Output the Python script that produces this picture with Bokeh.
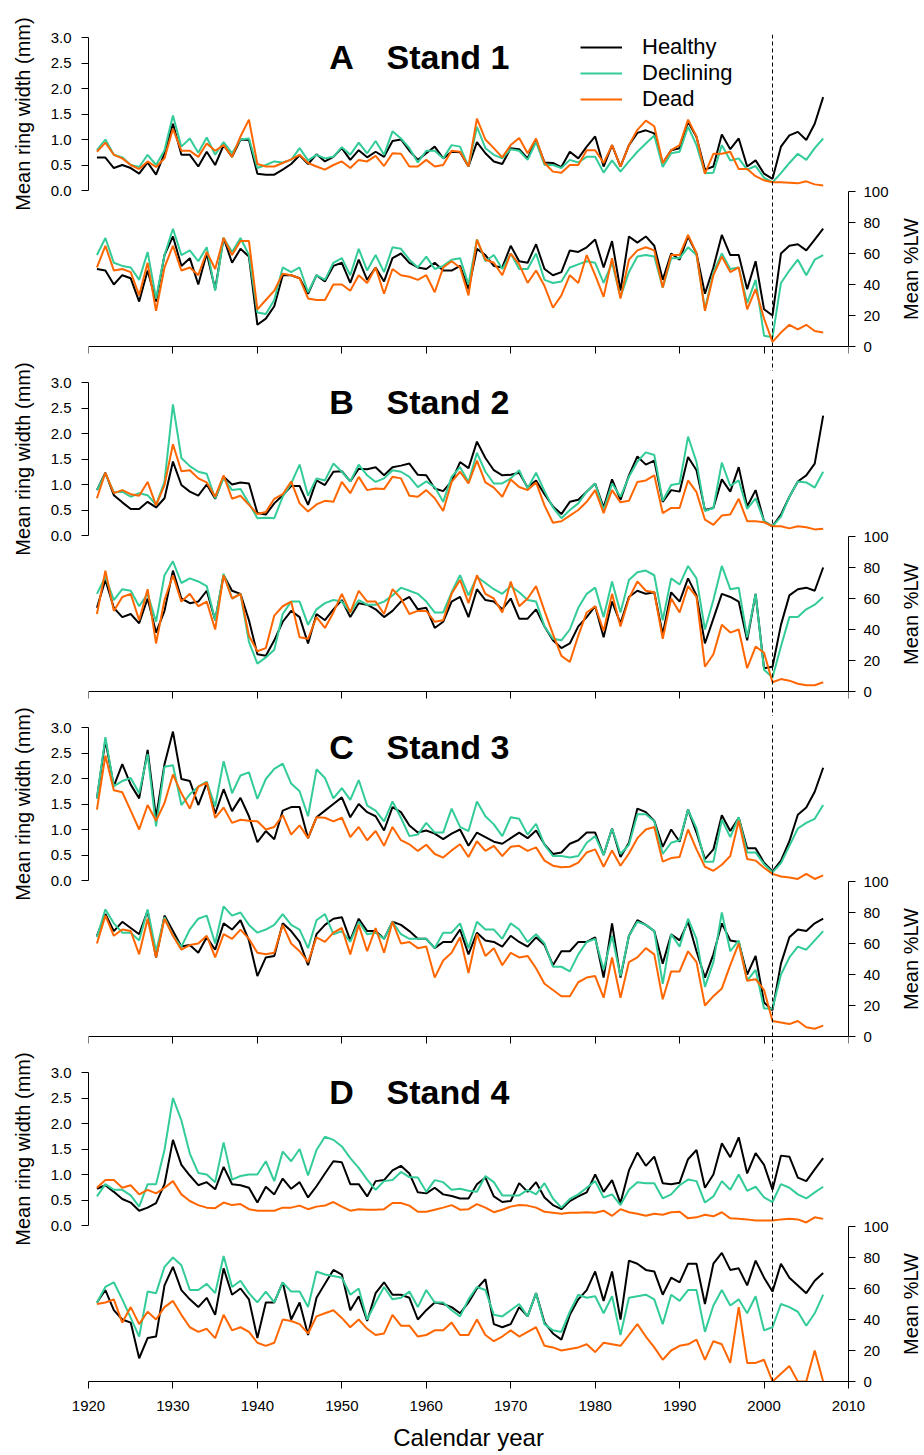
import math
from bokeh.plotting import figure
from bokeh.models import (Range1d, LinearAxis, FixedTicker, PrintfTickFormatter, Span,
                          Legend, LegendItem)
from bokeh.layouts import column, row
from bokeh.embed import file_html
from bokeh.resources import INLINE
from bokeh.core.properties import value

years = list(range(1921, 2008))
x_ticks = list(range(1920, 2011, 10))
rw_ticks = [0, 0.5, 1.0, 1.5, 2.0, 2.5, 3.0]
lw_ticks = [0, 20, 40, 60, 80, 100]
series_names = ["Healthy", "Declining", "Dead"]
stand_letters = ["A", "B", "C", "D"]
stand_names = ["Stand 1", "Stand 2", "Stand 3", "Stand 4"]
event_year = 2001

# ---------------- Stand 1 ----------------
s1_rw_healthy = [0.645, 0.645, 0.44, 0.50, 0.44, 0.33, 0.55, 0.31, 0.73, 1.31,
                 0.70, 0.70, 0.47, 0.76, 0.50, 0.89, 0.66, 1.00, 0.99, 0.33,
                 0.31, 0.31, 0.41, 0.52, 0.69, 0.52, 0.71, 0.57, 0.66, 0.83,
                 0.60, 0.79, 0.65, 0.76, 0.66, 0.97, 1.00, 0.78, 0.60, 0.73,
                 0.86, 0.63, 0.76, 0.75, 0.47, 0.95, 0.73, 0.57, 0.52, 0.83,
                 0.81, 0.63, 0.99, 0.55, 0.54, 0.46, 0.76, 0.63, 0.86, 1.06,
                 0.47, 0.89, 0.47, 0.89, 1.13, 1.18, 1.12, 0.54, 0.79, 0.83,
                 1.35, 1.05, 0.41, 0.47, 1.10, 0.81, 1.02, 0.47, 0.59, 0.33,
                 0.23, 0.86, 1.08, 1.15, 0.99, 1.31, 1.83]
s1_rw_declining = [0.79, 1.00, 0.70, 0.65, 0.50, 0.46, 0.70, 0.50, 0.79, 1.47,
                   0.86, 1.02, 0.74, 1.04, 0.70, 0.95, 0.73, 1.00, 1.02, 0.44,
                   0.50, 0.57, 0.55, 0.60, 0.83, 0.59, 0.70, 0.63, 0.66, 0.85,
                   0.70, 0.94, 0.73, 0.97, 0.70, 1.16, 1.02, 0.83, 0.55, 0.78,
                   0.78, 0.63, 0.89, 0.86, 0.47, 1.25, 0.83, 0.70, 0.63, 0.81,
                   0.78, 0.60, 0.95, 0.50, 0.50, 0.44, 0.60, 0.55, 0.66, 0.66,
                   0.35, 0.59, 0.37, 0.57, 0.76, 0.92, 1.08, 0.46, 0.73, 0.76,
                   1.25, 0.89, 0.34, 0.35, 0.89, 0.59, 0.63, 0.41, 0.48, 0.25,
                   0.16, 0.34, 0.54, 0.72, 0.60, 0.83, 1.02]
s1_rw_dead = [0.76, 0.94, 0.70, 0.63, 0.50, 0.42, 0.57, 0.46, 0.63, 1.21,
              0.78, 0.78, 0.66, 0.92, 0.78, 0.89, 0.66, 1.06, 1.39, 0.52,
              0.47, 0.47, 0.54, 0.61, 0.70, 0.54, 0.47, 0.41, 0.50, 0.57,
              0.44, 0.60, 0.57, 0.68, 0.48, 0.73, 0.72, 0.47, 0.47, 0.60,
              0.47, 0.50, 0.78, 0.76, 0.47, 1.41, 1.00, 0.83, 0.65, 0.89,
              1.03, 0.73, 1.02, 0.54, 0.37, 0.35, 0.50, 0.50, 0.79, 0.79,
              0.54, 0.89, 0.47, 0.89, 1.19, 1.37, 1.26, 0.54, 0.79, 0.89,
              1.39, 1.06, 0.33, 0.72, 0.72, 0.76, 0.42, 0.42, 0.28, 0.20,
              0.16, 0.16, 0.15, 0.14, 0.18, 0.12, 0.10]
s1_lw_healthy = [50, 49, 40, 46, 44, 29, 49, 29, 59, 71,
                 52, 57, 40, 60, 37, 70, 54, 63, 58, 14,
                 18, 26, 46, 46, 44, 34, 46, 42, 52, 54,
                 41, 56, 43, 51, 42, 57, 60, 54, 51, 50,
                 54, 49, 49, 52, 37, 63, 59, 52, 51, 65,
                 55, 54, 66, 50, 46, 48, 62, 61, 64, 69,
                 51, 68, 36, 71, 67, 71, 65, 43, 60, 56,
                 71, 60, 34, 51, 72, 59, 59, 37, 55, 24,
                 20, 60, 65, 66, 62, 69, 76]
s1_lw_declining = [59, 70, 54, 52, 51, 43, 61, 31, 59, 76,
                   59, 62, 55, 64, 36, 70, 61, 70, 59, 22,
                   21, 30, 51, 48, 51, 35, 46, 43, 54, 57,
                   46, 63, 49, 59, 48, 64, 63, 56, 51, 58,
                   50, 52, 56, 57, 40, 69, 55, 59, 50, 60,
                   50, 50, 60, 43, 41, 42, 51, 53, 55, 54,
                   41, 54, 32, 48, 58, 59, 58, 38, 57, 57,
                   64, 59, 24, 48, 60, 50, 51, 28, 43, 7,
                   6, 41, 49, 56, 46, 56, 59]
s1_lw_dead = [51, 65, 49, 50, 48, 33, 54, 23, 51, 65,
              49, 51, 46, 61, 50, 70, 59, 68, 68, 24,
              30, 36, 47, 46, 44, 31, 30, 30, 40, 40,
              36, 46, 41, 51, 34, 50, 46, 45, 43, 46,
              35, 51, 55, 51, 33, 69, 56, 54, 46, 60,
              53, 41, 49, 39, 25, 33, 46, 41, 59, 46,
              32, 57, 31, 56, 62, 64, 62, 38, 59, 59,
              72, 60, 23, 46, 58, 48, 51, 24, 37, 18,
              3, 9, 14, 11, 14, 10, 9]

# ---------------- Stand 2 ----------------
s2_rw_healthy = [0.89, 1.23, 0.79, 0.65, 0.52, 0.52, 0.66, 0.55, 0.73, 1.45,
                 0.99, 0.86, 0.78, 1.00, 0.72, 1.15, 1.00, 1.04, 1.02, 0.44,
                 0.41, 0.63, 0.79, 0.97, 0.97, 0.60, 1.08, 0.99, 1.25, 1.26,
                 1.06, 1.31, 1.30, 1.34, 1.18, 1.34, 1.37, 1.41, 1.19, 1.18,
                 0.92, 0.87, 1.06, 1.44, 1.32, 1.84, 1.52, 1.28, 1.18, 1.19,
                 1.23, 0.94, 1.08, 0.81, 0.57, 0.42, 0.66, 0.70, 0.86, 1.02,
                 0.55, 1.10, 0.70, 1.18, 1.55, 1.39, 1.47, 0.66, 0.89, 0.86,
                 1.54, 1.28, 0.50, 0.54, 1.10, 0.86, 1.34, 0.57, 0.89, 0.28,
                 0.18, 0.41, 0.76, 1.06, 1.18, 1.41, 2.35]
s2_rw_declining = [0.89, 1.21, 0.85, 0.86, 0.76, 0.83, 0.79, 0.60, 1.05, 2.57,
                   1.52, 1.36, 1.25, 1.21, 0.73, 1.12, 0.89, 0.91, 0.63, 0.34,
                   0.35, 0.34, 0.76, 1.02, 1.39, 0.78, 1.12, 1.08, 1.41, 1.25,
                   1.06, 1.39, 1.18, 1.05, 1.12, 1.28, 1.25, 1.15, 0.95, 1.06,
                   0.95, 0.66, 1.15, 1.34, 1.05, 1.62, 1.25, 1.02, 1.02, 1.12,
                   1.28, 0.92, 1.23, 0.87, 0.55, 0.34, 0.50, 0.63, 0.86, 1.02,
                   0.50, 1.02, 0.76, 1.15, 1.45, 1.63, 1.58, 0.68, 0.99, 1.02,
                   1.94, 1.44, 0.48, 0.54, 1.43, 0.97, 1.08, 0.52, 0.73, 0.28,
                   0.18, 0.37, 0.76, 1.06, 1.04, 0.94, 1.25]
s2_rw_dead = [0.73, 1.23, 0.83, 0.89, 0.81, 0.78, 1.05, 0.59, 0.99, 1.79,
              1.26, 1.28, 1.12, 1.04, 0.76, 1.18, 0.72, 0.78, 0.60, 0.42,
              0.46, 0.72, 0.81, 1.06, 0.63, 0.47, 0.61, 0.68, 0.66, 1.05,
              0.83, 1.15, 0.89, 0.92, 0.91, 1.15, 1.12, 0.78, 0.76, 0.89,
              0.73, 0.48, 1.05, 1.25, 1.02, 1.47, 1.04, 0.94, 0.76, 1.10,
              0.95, 0.89, 1.04, 0.59, 0.25, 0.28, 0.39, 0.50, 0.66, 0.89,
              0.44, 0.89, 0.65, 0.68, 1.05, 1.08, 1.18, 0.44, 0.54, 0.54,
              1.08, 0.85, 0.31, 0.21, 0.39, 0.41, 0.72, 0.28, 0.28, 0.26,
              0.18, 0.18, 0.14, 0.18, 0.16, 0.12, 0.13]
s2_lw_healthy = [54, 72, 54, 48, 50, 44, 60, 38, 52, 78,
                 60, 57, 58, 65, 46, 75, 65, 63, 46, 24,
                 23, 33, 45, 52, 48, 31, 50, 46, 53, 59,
                 48, 57, 56, 53, 48, 52, 58, 61, 53, 54,
                 41, 45, 58, 61, 48, 66, 59, 58, 53, 60,
                 47, 47, 53, 42, 33, 28, 31, 42, 48, 55,
                 35, 58, 44, 61, 65, 63, 64, 37, 64, 58,
                 73, 62, 31, 47, 63, 61, 58, 33, 63, 15,
                 16, 43, 62, 66, 67, 65, 80]
s2_lw_declining = [63, 74, 59, 66, 65, 55, 63, 45, 75, 84,
                   70, 73, 71, 68, 46, 76, 60, 63, 32, 18,
                   22, 27, 50, 58, 58, 43, 53, 57, 59, 58,
                   51, 59, 56, 56, 58, 62, 67, 65, 63, 58,
                   51, 51, 64, 75, 62, 74, 70, 66, 63, 68,
                   64, 59, 58, 42, 34, 33, 40, 54, 63, 67,
                   48, 71, 51, 72, 77, 78, 75, 46, 73, 69,
                   81, 73, 40, 59, 81, 66, 67, 35, 63, 14,
                   9, 29, 48, 48, 53, 56, 61]
s2_lw_dead = [50, 78, 52, 61, 63, 46, 66, 31, 59, 75,
              58, 63, 55, 58, 40, 75, 60, 63, 36, 26,
              28, 49, 55, 58, 35, 34, 48, 41, 51, 63,
              51, 65, 58, 58, 50, 66, 60, 50, 52, 52,
              45, 46, 63, 72, 57, 75, 63, 60, 51, 71,
              55, 60, 68, 52, 37, 23, 19, 36, 51, 55,
              39, 63, 42, 60, 71, 65, 64, 34, 60, 51,
              68, 61, 16, 24, 43, 38, 40, 15, 29, 25,
              6, 8, 7, 5, 4, 4, 6]

# ---------------- Stand 3 ----------------
s3_rw_healthy = [1.61, 2.75, 1.85, 2.28, 1.88, 1.61, 2.56, 1.23, 2.28, 2.92,
                 1.99, 1.95, 1.48, 1.91, 1.31, 1.79, 1.36, 1.62, 1.26, 0.75,
                 0.97, 0.81, 1.37, 1.44, 1.44, 0.83, 1.24, 1.37, 1.50, 1.63,
                 1.24, 1.50, 1.34, 1.26, 0.98, 1.44, 1.34, 1.08, 0.94, 0.98,
                 0.92, 0.81, 0.92, 1.00, 0.68, 0.94, 0.85, 0.76, 0.72, 0.83,
                 0.94, 0.83, 0.98, 0.71, 0.52, 0.55, 0.72, 0.79, 0.94, 0.94,
                 0.50, 1.02, 0.46, 0.74, 1.41, 1.34, 1.17, 0.66, 1.00, 0.76,
                 1.39, 0.94, 0.42, 0.61, 1.28, 0.97, 1.23, 0.63, 0.63, 0.35,
                 0.18, 0.39, 0.77, 1.29, 1.43, 1.74, 2.21]
s3_rw_declining = [1.61, 2.81, 1.85, 1.95, 2.01, 1.71, 2.48, 1.06, 2.23, 2.26,
                   1.48, 1.69, 1.84, 1.94, 1.45, 2.34, 1.71, 2.06, 2.12, 1.60,
                   1.99, 2.19, 2.29, 1.90, 1.75, 1.26, 2.18, 2.01, 1.61, 1.81,
                   1.58, 1.97, 1.47, 1.37, 1.16, 1.55, 1.23, 0.87, 0.90, 1.13,
                   0.94, 0.94, 1.41, 1.05, 0.97, 1.55, 1.26, 1.10, 0.87, 1.24,
                   1.21, 0.90, 1.11, 0.70, 0.48, 0.48, 0.45, 0.48, 0.74, 0.87,
                   0.50, 1.02, 0.52, 0.70, 1.30, 1.30, 1.16, 0.52, 0.74, 0.79,
                   1.39, 1.02, 0.37, 0.37, 1.19, 0.85, 1.24, 0.55, 0.55, 0.32,
                   0.16, 0.34, 0.68, 1.02, 1.13, 1.21, 1.48]
s3_rw_dead = [1.39, 2.45, 1.77, 1.73, 1.37, 1.00, 1.48, 1.17, 1.52, 2.08,
              1.71, 1.41, 1.84, 1.92, 1.23, 1.43, 1.13, 1.19, 1.17, 1.16,
              1.00, 1.05, 1.28, 0.90, 1.08, 0.83, 1.24, 1.23, 1.16, 1.23,
              0.85, 1.05, 0.79, 0.97, 0.68, 1.05, 0.79, 0.71, 0.58, 0.70,
              0.52, 0.45, 0.59, 0.71, 0.46, 0.77, 0.58, 0.68, 0.48, 0.66,
              0.68, 0.58, 0.65, 0.39, 0.29, 0.26, 0.27, 0.35, 0.55, 0.61,
              0.27, 0.59, 0.29, 0.53, 0.83, 1.00, 1.05, 0.37, 0.44, 0.46,
              1.00, 0.61, 0.27, 0.19, 0.31, 0.48, 1.17, 0.42, 0.39, 0.25,
              0.13, 0.08, 0.06, 0.03, 0.13, 0.03, 0.10]
s3_lw_healthy = [65, 79, 68, 74, 70, 66, 81, 51, 78, 68,
                 58, 59, 54, 64, 56, 73, 69, 75, 62, 39,
                 51, 52, 73, 68, 61, 46, 66, 72, 76, 77,
                 62, 76, 68, 68, 63, 74, 72, 68, 63, 63,
                 57, 61, 61, 69, 53, 67, 62, 61, 58, 65,
                 61, 58, 64, 59, 46, 55, 55, 61, 61, 64,
                 38, 73, 38, 65, 75, 72, 68, 47, 66, 62,
                 74, 55, 38, 53, 73, 62, 61, 40, 52, 22,
                 17, 47, 64, 69, 68, 73, 76]
s3_lw_declining = [64, 82, 73, 67, 67, 62, 82, 55, 77, 65,
                   58, 69, 76, 78, 60, 84, 78, 80, 72, 67,
                   69, 72, 79, 72, 69, 57, 75, 79, 66, 68,
                   61, 74, 66, 67, 63, 74, 66, 63, 63, 63,
                   57, 67, 67, 73, 57, 74, 69, 69, 63, 73,
                   69, 61, 66, 60, 45, 45, 42, 53, 61, 63,
                   43, 65, 39, 65, 74, 72, 68, 34, 66, 58,
                   76, 63, 32, 48, 80, 55, 62, 36, 43, 18,
                   18, 40, 51, 58, 56, 62, 68]
s3_lw_dead = [60, 78, 65, 69, 68, 53, 76, 51, 76, 65,
              56, 59, 60, 65, 51, 66, 63, 69, 63, 54,
              53, 54, 72, 60, 55, 48, 64, 61, 67, 70,
              53, 72, 55, 70, 54, 74, 60, 61, 57, 58,
              38, 49, 54, 64, 41, 66, 52, 57, 46, 54,
              51, 52, 44, 34, 30, 26, 26, 35, 38, 39,
              25, 51, 25, 48, 51, 57, 53, 24, 42, 42,
              55, 48, 20, 26, 31, 46, 60, 36, 37, 30,
              10, 9, 8, 10, 6, 5, 7]

# ---------------- Stand 4 ----------------
s4_rw_healthy = [0.72, 0.79, 0.66, 0.52, 0.45, 0.29, 0.35, 0.44, 0.81, 1.68,
                 1.19, 0.98, 0.79, 0.85, 0.71, 1.15, 0.81, 0.79, 0.74, 0.45,
                 0.76, 0.61, 0.92, 0.72, 0.85, 0.55, 0.77, 1.02, 1.26, 1.24,
                 0.81, 0.81, 0.57, 0.87, 0.89, 1.08, 1.17, 1.02, 0.65, 0.63,
                 0.74, 0.61, 0.58, 0.53, 0.53, 0.81, 0.94, 0.57, 0.46, 0.48,
                 0.83, 0.66, 0.85, 0.55, 0.40, 0.32, 0.48, 0.57, 0.65, 1.00,
                 0.66, 0.89, 0.44, 1.08, 1.43, 1.17, 1.35, 0.83, 0.81, 0.84,
                 1.30, 1.48, 0.74, 1.00, 1.61, 1.34, 1.73, 1.02, 1.42, 1.19,
                 0.70, 1.37, 1.35, 0.94, 0.87, 1.10, 1.32]
s4_rw_declining = [0.57, 0.81, 0.70, 0.70, 0.59, 0.37, 0.81, 0.81, 1.48, 2.50,
                   2.06, 1.41, 1.03, 1.00, 0.85, 1.63, 0.90, 0.97, 1.00, 1.00,
                   1.26, 0.87, 1.45, 1.26, 1.50, 0.98, 1.48, 1.74, 1.68, 1.55,
                   1.32, 1.13, 0.90, 0.70, 0.87, 0.89, 1.05, 0.95, 0.94, 0.66,
                   0.89, 0.85, 0.70, 0.72, 0.68, 0.66, 0.97, 0.85, 0.59, 0.59,
                   0.59, 0.70, 0.61, 0.83, 0.53, 0.35, 0.52, 0.61, 0.74, 0.87,
                   0.55, 0.61, 0.40, 0.70, 0.85, 0.83, 0.83, 0.53, 0.61, 0.79,
                   0.90, 0.87, 0.45, 0.57, 0.87, 0.70, 1.00, 0.68, 0.76, 0.55,
                   0.46, 0.81, 0.74, 0.61, 0.53, 0.65, 0.76]
s4_rw_dead = [0.74, 0.89, 0.89, 0.74, 0.79, 0.61, 0.70, 0.63, 0.74, 0.87,
              0.61, 0.48, 0.40, 0.35, 0.34, 0.45, 0.40, 0.42, 0.32, 0.29,
              0.29, 0.29, 0.35, 0.35, 0.39, 0.32, 0.37, 0.39, 0.46, 0.37,
              0.29, 0.32, 0.31, 0.31, 0.32, 0.44, 0.44, 0.39, 0.27, 0.27,
              0.31, 0.35, 0.40, 0.31, 0.32, 0.42, 0.35, 0.26, 0.31, 0.37,
              0.40, 0.39, 0.35, 0.27, 0.25, 0.23, 0.25, 0.25, 0.26, 0.25,
              0.29, 0.19, 0.32, 0.26, 0.23, 0.19, 0.23, 0.21, 0.26, 0.27,
              0.14, 0.16, 0.21, 0.18, 0.26, 0.14, 0.13, 0.12, 0.10, 0.10,
              0.10, 0.12, 0.13, 0.12, 0.06, 0.16, 0.13]
s4_lw_healthy = [51, 59, 46, 40, 38, 15, 28, 29, 62, 74,
                 59, 53, 48, 54, 43, 73, 56, 60, 53, 28,
                 51, 51, 64, 40, 51, 30, 54, 63, 72, 69,
                 46, 55, 39, 57, 64, 56, 56, 54, 40, 46,
                 51, 50, 48, 44, 51, 60, 66, 37, 35, 37,
                 48, 42, 57, 38, 31, 27, 43, 53, 59, 71,
                 52, 71, 40, 78, 76, 72, 71, 56, 67, 64,
                 76, 76, 50, 76, 83, 72, 73, 62, 78, 67,
                 58, 76, 67, 62, 57, 65, 70]
s4_lw_declining = [51, 61, 64, 53, 41, 29, 58, 57, 74, 80,
                   75, 59, 59, 63, 57, 81, 61, 65, 57, 51,
                   58, 51, 64, 58, 58, 48, 71, 69, 68, 67,
                   56, 60, 40, 51, 61, 53, 54, 58, 48, 59,
                   51, 51, 46, 42, 53, 61, 59, 43, 42, 46,
                   50, 42, 57, 37, 33, 32, 45, 56, 54, 55,
                   44, 55, 30, 54, 55, 56, 53, 37, 56, 52,
                   59, 59, 32, 49, 59, 49, 53, 44, 55, 33,
                   35, 50, 48, 45, 36, 44, 56]
s4_lw_dead = [50, 51, 53, 38, 48, 37, 45, 40, 48, 52,
              43, 35, 32, 34, 28, 43, 33, 35, 32, 25,
              23, 25, 40, 39, 37, 31, 42, 44, 46, 41,
              35, 40, 34, 30, 31, 43, 36, 36, 29, 30,
              33, 33, 38, 30, 30, 40, 30, 26, 29, 33,
              29, 32, 35, 23, 22, 20, 21, 22, 24, 19,
              25, 24, 23, 30, 37, 29, 22, 14, 20, 23,
              24, 27, 14, 26, 24, 12, 48, 12, 12, 14,
              0, 5, 10, 0, 0, 20, 0]

stands_rw = [
    [s1_rw_healthy, s1_rw_declining, s1_rw_dead],
    [s2_rw_healthy, s2_rw_declining, s2_rw_dead],
    [s3_rw_healthy, s3_rw_declining, s3_rw_dead],
    [s4_rw_healthy, s4_rw_declining, s4_rw_dead],
]
stands_lw = [
    [s1_lw_healthy, s1_lw_declining, s1_lw_dead],
    [s2_lw_healthy, s2_lw_declining, s2_lw_dead],
    [s3_lw_healthy, s3_lw_declining, s3_lw_dead],
    [s4_lw_healthy, s4_lw_declining, s4_lw_dead],
]
for grp in stands_rw + stands_lw:
    for s in grp:
        assert len(s) == len(years), len(s)

COLORS = ["#000000", "#33CC99", "#FF6600"]
FONT = "Liberation Sans"
FRAME_W = 760
CORE_H = 312            # from top of the ring-width area down to %LW = 0
PX_RW = 51.0            # pixels per mm
PX_LW = 1.55            # pixels per %LW unit
LEFT_LBL_W, RIGHT_LBL_W = 40, 26
TOPS = [34, 8, 8, 8]
GAPS = [25, 25, 25, 0]  # frame space kept below %LW = 0 (panels A-C)
BOTTOMS = [0, 0, 0, 72]
TOTAL_H = sum(TOPS) + sum(BOTTOMS) + sum(GAPS) + 4 * CORE_H


def style_axis(ax, label_size="15px"):
    ax.axis_line_color = "black"
    ax.axis_line_width = 1
    ax.major_tick_line_color = "black"
    ax.major_tick_in = 0
    ax.major_tick_out = 7
    ax.minor_tick_line_color = None
    ax.major_label_text_font = FONT
    ax.major_label_text_font_size = label_size
    ax.major_label_text_color = "black"
    ax.axis_label_text_font = FONT
    ax.axis_label_text_font_style = "normal"
    ax.axis_label_text_color = "black"


def make_panel(i):
    top, bottom, gap, last = TOPS[i], BOTTOMS[i], GAPS[i], i == 3
    fh = CORE_H + gap
    # %LW = 0 sits `gap` px above the frame bottom; ring width 0 sits 156 px above that
    rw_lo = -(gap + 156) / PX_RW
    rw_hi = (fh - gap - 156) / PX_RW
    lw_lo = -gap / PX_LW
    lw_hi = (fh - gap) / PX_LW
    p = figure(frame_width=FRAME_W, frame_height=fh,
               x_range=Range1d(1920, 2010), y_range=Range1d(rw_lo, rw_hi),
               output_backend="svg", toolbar_location=None,
               x_axis_location=None, y_axis_location=None,
               min_border_left=88 - LEFT_LBL_W, min_border_right=48,
               min_border_top=top, min_border_bottom=bottom)
    p.extra_y_ranges = {"lw": Range1d(lw_lo, lw_hi)}
    p.outline_line_color = None
    p.grid.visible = False
    p.background_fill_color = "white"
    p.border_fill_color = "white"

    yl = LinearAxis(bounds=(0, 3), ticker=FixedTicker(ticks=rw_ticks),
                    formatter=PrintfTickFormatter(format="%.1f"))
    style_axis(yl)
    yl.major_label_standoff = 10
    p.add_layout(yl, "left")

    yr = LinearAxis(y_range_name="lw", bounds=(0, 100),
                    ticker=FixedTicker(ticks=lw_ticks))
    style_axis(yr)
    yr.major_label_standoff = 8
    p.add_layout(yr, "right")

    if last:
        xb = LinearAxis(ticker=FixedTicker(ticks=x_ticks))
        style_axis(xb)
        xb.major_label_standoff = 12
        xb.axis_label = "Calendar year"
        xb.axis_label_text_font_size = "24px"
        xb.axis_label_standoff = 10
    else:
        # year axis drawn at %LW = 0, inside the frame; labels only on the last panel
        xb = LinearAxis(ticker=FixedTicker(ticks=x_ticks), y_range_name="lw",
                        fixed_location=0)
        style_axis(xb)
        xb.major_label_standoff = 0
        xb.major_label_text_color = None
    p.add_layout(xb, "below")

    renderers = []
    for k in range(3):
        renderers.append(p.line(years, stands_rw[i][k], line_color=COLORS[k],
                                line_width=2))
    for k in range(3):
        p.line(years, stands_lw[i][k], line_color=COLORS[k], line_width=2,
               y_range_name="lw")

    p.add_layout(Span(location=event_year, dimension="height", line_color="black",
                      line_width=1, line_dash="4 3"))

    p.text(x=[1948.5], y=[2.627], text=[stand_letters[i]], text_font=value(FONT),
           text_font_style="bold", text_font_size="34px", text_baseline="middle",
           text_align="left", text_color="black")
    p.text(x=[1955.3], y=[2.627], text=[stand_names[i]], text_font=value(FONT),
           text_font_style="bold", text_font_size="34px", text_baseline="middle",
           text_align="left", text_color="black")

    if i == 0:
        legend = Legend(items=[LegendItem(label=series_names[k], renderers=[renderers[k]])
                               for k in range(3)],
                        location=(492, fh - 78), orientation="vertical",
                        border_line_color=None, background_fill_alpha=0,
                        padding=0, margin=0, spacing=0, glyph_width=42,
                        glyph_height=26, label_height=26, label_standoff=20,
                        label_text_font=FONT, label_text_font_size="22px",
                        label_text_color="black")
        p.add_layout(legend)
    return p


def title_strip(width, x_pos, y_positions, text):
    # tall narrow strip (pixel coordinates, y downward) carrying the axis titles
    f = figure(frame_width=width, frame_height=TOTAL_H,
               x_range=Range1d(0, width), y_range=Range1d(TOTAL_H, 0),
               output_backend="svg", toolbar_location=None,
               x_axis_location=None, y_axis_location=None,
               min_border_left=0, min_border_right=0,
               min_border_top=0, min_border_bottom=0)
    f.outline_line_color = None
    f.grid.visible = False
    f.text(x=[x_pos] * len(y_positions), y=y_positions, text=[text] * len(y_positions),
           angle=math.pi / 2, text_align="center", text_baseline="middle",
           text_font=value(FONT), text_font_size="20px", text_color="black")
    return f


# vertical centres of each sub-axis (pixels from the top)
panel_tops = []
acc = 0
for i in range(4):
    panel_tops.append(acc + TOPS[i])
    acc += TOPS[i] + CORE_H + GAPS[i] + BOTTOMS[i]
rw_centres = [t + 3 + 76.5 for t in panel_tops]
lw_centres = [t + CORE_H - 77.5 for t in panel_tops]

left_strip = title_strip(LEFT_LBL_W, 22, rw_centres, "Mean ring width (mm)")
right_strip = title_strip(RIGHT_LBL_W, 14, lw_centres, "Mean %LW")

panels = column(*[make_panel(i) for i in range(4)], spacing=0)
layout = row(left_strip, panels, right_strip, spacing=0)
open("out.html", "w").write(file_html(layout, INLINE))
